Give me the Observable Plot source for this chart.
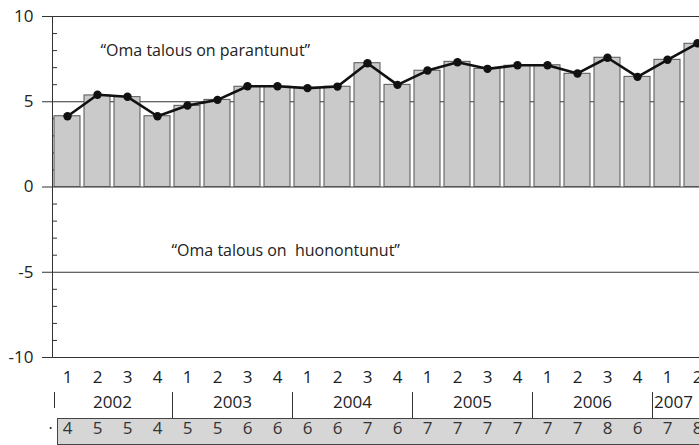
<!DOCTYPE html>
<html><head><meta charset="utf-8">
<script src="https://cdn.jsdelivr.net/npm/d3@7"></script>
<script src="https://cdn.jsdelivr.net/npm/@observablehq/plot@0.6"></script>
<style>body{margin:0;background:#fff}#chart svg{display:block}</style>
</head><body><div id="chart"></div>
<script>
const quarters = [1,2,3,4, 1,2,3,4, 1,2,3,4, 1,2,3,4, 1,2,3,4, 1,2];
const quarterYears = [2002,2002,2002,2002, 2003,2003,2003,2003, 2004,2004,2004,2004, 2005,2005,2005,2005, 2006,2006,2006,2006, 2007,2007];
const barValues = [4.15,5.37,5.27,4.15, 4.76,5.11,5.88,5.88, 5.8,5.88,7.26,5.99, 6.82,7.34,6.93,7.11, 7.14,6.64,7.58,6.46, 7.46,8.4];
const lineValues = [4.15,5.41,5.29,4.15, 4.78,5.11,5.91,5.91, 5.8,5.89,7.26,5.99, 6.83,7.32,6.93,7.14, 7.14,6.66,7.58,6.46, 7.46,8.43];
const roundedValues = [4,5,5,4, 5,5,6,6, 6,6,7,6, 7,7,7,7, 7,7,8,6, 7,8];
const yTicks = [-10,-5,0,5,10];
const yMinorTicks = [-9,-8,-7,-6,-4,-3,-2,-1,1,2,3,4,6,7,8,9];
const annotationUp = "“Oma talous on parantunut”";
const annotationDown = "“Oma talous on  huonontunut”";

const data = quarters.map((q, i) => ({
  key: quarterYears[i] + "-" + q, q, year: quarterYears[i],
  bar: barValues[i], line: lineValues[i], round: roundedValues[i]
}));
const keys = data.map(d => d.key);
const FONT = "Open Sans";
const ink = "#222";
const NUM = 17;

const chart = Plot.plot({
  width: 699, height: 445,
  marginLeft: 52, marginRight: -13, marginTop: 16, marginBottom: 88,
  style: {fontFamily: FONT, fontSize: "16px", background: "white", color: ink},
  x: {type: "band", domain: keys, padding: 0, axis: null},
  y: {domain: [-10, 10], axis: null},
  marks: [
    Plot.ruleY(yTicks, {stroke: "#333", strokeWidth: 1}),
    Plot.axisY({ticks: yTicks, tickSize: 10, tickPadding: 9, tickFormat: d => String(d), fontSize: NUM, fontFamily: FONT, stroke: "#333", fill: ink}),
    Plot.tickY(yMinorTicks, {y: d => d, x: () => keys[0], insetRight: 25, stroke: "#333"}),
    Plot.ruleX([keys[0]], {x: d => d, dx: -15, stroke: "#333"}),
    Plot.barY(data, {x: "key", y: "bar", fill: "#cacaca", stroke: "#555", strokeWidth: 1, insetLeft: 2, insetRight: 2}),
    Plot.line(data, {x: "key", y: "line", stroke: "#111", strokeWidth: 2.6}),
    Plot.dot(data, {x: "key", y: "line", r: 4.2, fill: "#111", stroke: "none"}),
    Plot.text([annotationUp], {text: d => d, frameAnchor: "top-left", dx: 48, dy: 28, textAnchor: "start", fontSize: 16, fontFamily: FONT, fill: ink}),
    Plot.text([annotationDown], {text: d => d, frameAnchor: "top-left", dx: 119, dy: 228, textAnchor: "start", fontSize: 16, fontFamily: FONT, fill: ink}),
    Plot.text(data, {x: "key", text: d => String(d.q), frameAnchor: "bottom", dy: 25, fontSize: NUM, fontFamily: FONT, fill: ink}),
    Plot.ruleX([keys[0]], {x: d => d, dx: -13, insetTop: 376, insetBottom: -51, stroke: "#333"}),
    Plot.ruleX(data.filter((d, i) => d.q === 1 && i > 0), {x: "key", dx: -15, insetTop: 376, insetBottom: -61, stroke: "#333"}),
    Plot.text(data.filter(d => d.q === 2 && d.year < 2007), {x: "key", text: d => String(d.year), frameAnchor: "bottom", dx: 15, dy: 50, fontSize: NUM, fontFamily: FONT, fill: ink}),
    Plot.text(data.filter(d => d.q === 1 && d.year === 2007), {x: "key", text: d => String(d.year), frameAnchor: "bottom", dx: 6, dy: 50, fontSize: NUM, fontFamily: FONT, fill: ink}),
    Plot.frame({fill: "#d6d6d6", stroke: "#444", insetLeft: 5, insetTop: 402, insetBottom: -87}),
    Plot.text(data, {x: "key", text: d => String(d.round), frameAnchor: "bottom", dy: 76, fontSize: NUM, fontFamily: FONT, fill: "#333"}),
    Plot.text(["·"], {text: d => d, frameAnchor: "bottom-left", dx: -4, dy: 76, fontSize: 16, fontFamily: FONT, fill: ink})
  ]
});
document.getElementById("chart").appendChild(chart);
</script>
</body></html>
